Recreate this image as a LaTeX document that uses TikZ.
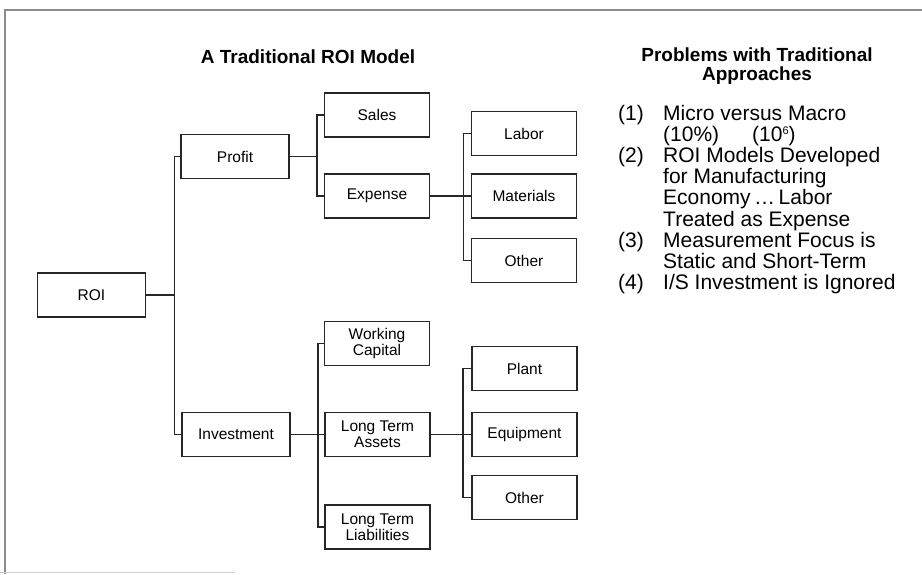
\documentclass[tikz,border=0pt]{standalone}
\usepackage{fontspec}
\setmainfont{Liberation Sans}
\begin{document}
\begin{tikzpicture}[x=1pt, y=-1pt,
        box/.style={draw=black!85, line width=1.8pt, minimum width=105pt, minimum height=44pt,
            inner sep=0pt, align=center, font=\fontsize{15.5}{16}\selectfont},
        widebox/.style={box, minimum width=108pt},
        wire/.style={draw=black!85, line width=1.6pt},
        heading/.style={inner sep=0pt, font=\bfseries\fontsize{19}{19}\selectfont},
        listtext/.style={inner sep=0pt, font=\fontsize{21}{20}\selectfont}
    ]

        \useasboundingbox (0, 0) rectangle (922, 574);
        \draw[black!45, line width=1.2pt] (922, 10) -- (5, 10) -- (5, 574);
        \draw[black!20, line width=1pt] (0, 572) -- (235, 572);

        \node[heading, anchor=base] (modeltitle) at (308, 63) {A Traditional ROI Model};
        \node[heading, anchor=base] (probtitle) at (757, 61)
            {\begin{tabular}[t]{@{}c@{}}Problems with Traditional\\Approaches\end{tabular}};

        \node[widebox] (roi)    at (91.5, 295)  {ROI};
        \node[widebox] (profit) at (235, 156.5) {Profit};
        \node[widebox] (invest) at (236, 434.5) {Investment};

        \node[box] (sales)       at (377, 115)     {Sales};
        \node[box] (expense)     at (377, 196)     {Expense};
        \node[box] (capital)     at (377, 343.5)   {Working\\Capital};
        \node[box] (assets)      at (377.5, 434.5) {Long Term\\Assets};
        \node[box] (liabilities) at (377.5, 527)   {Long Term\\Liabilities};

        \node[box] (labor)       at (524, 133.5)   {Labor};
        \node[box] (materials)   at (524, 196)     {Materials};
        \node[box] (other)       at (524, 260.5)   {Other};
        \node[box] (plant)       at (524.5, 368.5) {Plant};
        \node[box] (equipment)   at (524.5, 434.5) {Equipment};
        \node[box] (otherassets) at (524.5, 497.5) {Other};

        \draw[wire] (roi.east) -- ++(28, 0) coordinate (trunk);
        \draw[wire] (profit.west) -| (trunk) |- (invest.west);

        \draw[wire] (profit.east) -- ++(27, 0) coordinate (profitfork);
        \draw[wire] (sales.west) -| (profitfork) |- (expense.west);

        \draw[wire] (invest.east) -- (assets.west);
        \path (invest.east) -- ++(27, 0) coordinate (investfork);
        \draw[wire] (capital.west) -| (investfork) |- (liabilities.west);

        \draw[wire] (expense.east) -- (materials.west);
        \path (expense.east) -- ++(33, 0) coordinate (expensefork);
        \draw[wire] (labor.west) -| (expensefork) |- (other.west);

        \draw[wire] (assets.east) -- (equipment.west);
        \path (assets.east) -- ++(32, 0) coordinate (assetsfork);
        \draw[wire] (plant.west) -| (assetsfork) |- (otherassets.west);

        \node[listtext, anchor=base west] (problems) at (618, 120) {\begin{tabular}[t]{@{}p{45pt}@{}l@{}}
            (1) & Micro versus Macro\\
                & \makebox[89pt][l]{(10\%)}(10{\fontsize{11}{11}\selectfont\raisebox{7pt}{6}})\\
            (2) & ROI Models Developed\\
                & for Manufacturing\\
                & Economy\,\dots\,Labor\\
                & Treated as Expense\\
            (3) & Measurement Focus is\\
                & Static and Short-Term\\
            (4) & I/S Investment is Ignored
        \end{tabular}};

    \end{tikzpicture}
\end{document}
